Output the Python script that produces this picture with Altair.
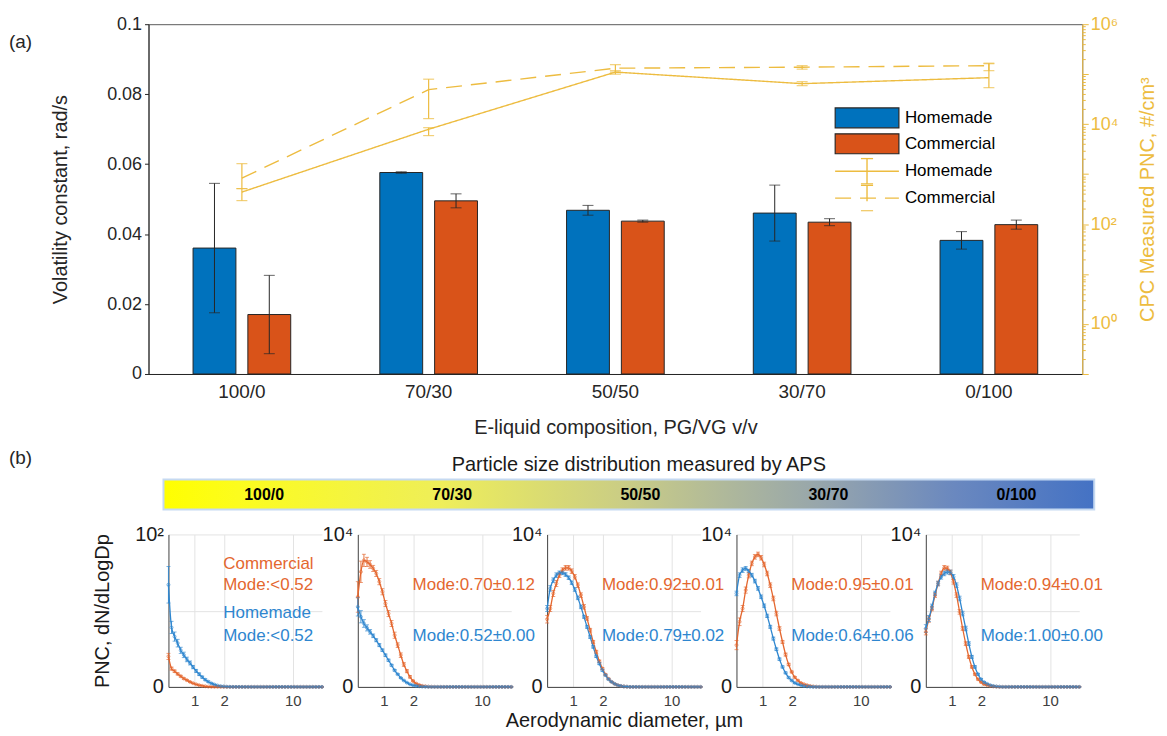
import altair as alt
import pandas as pd

FONT = "Liberation Sans"
INK = "#262626"
BLUE = "#0072BD"
ORANGE = "#D95319"
BLUE_L = "#2E86CF"
ORANGE_L = "#E4672F"
YEL = "#EDBC40"
GRID = "#E3E3E3"

# ---------------- panel (a) data ----------------
compositions = ["100/0", "70/30", "50/50", "30/70", "0/100"]
series = ["Homemade", "Commercial"]
line_series_names = ["Homemade CPC", "Commercial CPC"]

vol_home = [0.0360, 0.0576, 0.0468, 0.0460, 0.0382]
vol_home_err = [0.0185, 0.0002, 0.0014, 0.0080, 0.0025]
vol_comm = [0.0170, 0.0495, 0.0437, 0.0434, 0.0427]
vol_comm_err = [0.0112, 0.0020, 0.0003, 0.0010, 0.0013]

pnc_home = [437, 7900, 110000, 64600, 85100]
pnc_home_lo = [295, 5900, 100000, 58900, 53700]
pnc_home_hi = [513, 8500, 117500, 70800, 162000]
pnc_comm = [832, 49000, 131800, 138000, 148000]
pnc_comm_lo = [513, 12900, 109600, 126000, 117500]
pnc_comm_hi = [1620, 79400, 155000, 148000, 166000]

right_major = [0.1, 1, 10, 100, 1000, 10000, 100000, 1000000]
right_ticks = [m * 10.0 ** k for k in range(-1, 6) for m in range(1, 10)] + [1000000]
right_label_vals = [1, 100, 10000, 1000000]
right_label_text = ["10⁰", "10²", "10⁴", "10⁶"]

# ---------------- panel (b) data ----------------
cbar_title = "Particle size distribution measured by APS"
aps_bins = [0.542, 0.583, 0.626, 0.673, 0.723, 0.777, 0.835, 0.898, 0.965, 1.037,
            1.114, 1.197, 1.286, 1.382, 1.486, 1.596, 1.715, 1.843, 1.981, 2.129,
            2.288, 2.458, 2.642, 2.839, 3.051, 3.278, 3.523, 3.786, 4.068, 4.371,
            4.698, 5.048, 5.425, 5.829, 6.264, 6.732, 7.234, 7.774, 8.354, 8.977,
            9.647, 10.37, 11.14, 11.97, 12.86, 13.82, 14.86, 15.96, 17.15, 18.43,
            19.81]

home_1 = [67, 39, 33, 28.7, 24, 21, 18, 15.7, 13, 10.5,
          8.3, 6.4, 4.7, 3.4, 2.3, 1.5, 0.9, 0.5, 0.3, 0.15,
          0.08, 0.04, 0.02, 0.01, 0, 0, 0, 0, 0, 0,
          0, 0, 0, 0, 0, 0, 0, 0, 0, 0,
          0, 0, 0, 0, 0, 0, 0, 0, 0, 0, 0]
home_1_err = [12, 4, 3, 2.5, 2, 1.8, 1.5, 1.3, 1.1, 1.0,
              0.9, 0.7, 0.6, 0.5, 0.4, 0.3, 0.2, 0.15, 0.1, 0.05,
              0, 0, 0, 0, 0, 0, 0, 0, 0, 0,
              0, 0, 0, 0, 0, 0, 0, 0, 0, 0,
              0, 0, 0, 0, 0, 0, 0, 0, 0, 0, 0]
comm_1 = [20, 12, 10.3, 8.5, 7, 5.5, 4.4, 3.3, 2.4, 1.7,
          1.1, 0.7, 0.4, 0.2, 0.1, 0.05, 0.02, 0, 0, 0,
          0, 0, 0, 0, 0, 0, 0, 0, 0, 0,
          0, 0, 0, 0, 0, 0, 0, 0, 0, 0,
          0, 0, 0, 0, 0, 0, 0, 0, 0, 0, 0]
comm_1_err = [2, 1, 0.8, 0.7, 0.6, 0.5, 0.4, 0.3, 0.2, 0.2,
              0.1, 0.1, 0.05, 0, 0, 0, 0, 0, 0, 0,
              0, 0, 0, 0, 0, 0, 0, 0, 0, 0,
              0, 0, 0, 0, 0, 0, 0, 0, 0, 0,
              0, 0, 0, 0, 0, 0, 0, 0, 0, 0, 0]

comm_2 = [5900, 7550, 8300, 8200, 8030, 7770, 7440, 6900, 6240, 5470,
          4810, 4160, 3390, 2740, 2080, 1470, 1030, 660, 390, 220,
          130, 70, 40, 20, 10, 5, 0, 0, 0, 0,
          0, 0, 0, 0, 0, 0, 0, 0, 0, 0,
          0, 0, 0, 0, 0, 0, 0, 0, 0, 0, 0]
comm_2_err = [1000, 700, 400, 300, 250, 200, 200, 200, 200, 200,
              200, 200, 200, 150, 150, 120, 100, 80, 50, 30,
              20, 10, 5, 0, 0, 0, 0, 0, 0, 0,
              0, 0, 0, 0, 0, 0, 0, 0, 0, 0,
              0, 0, 0, 0, 0, 0, 0, 0, 0, 0, 0]
home_2 = [5250, 4600, 4160, 3870, 3610, 3350, 3060, 2740, 2410, 2080,
          1750, 1420, 1090, 830, 590, 420, 280, 175, 110, 66,
          40, 20, 10, 5, 0, 0, 0, 0, 0, 0,
          0, 0, 0, 0, 0, 0, 0, 0, 0, 0,
          0, 0, 0, 0, 0, 0, 0, 0, 0, 0, 0]
home_2_err = [600, 400, 250, 200, 150, 120, 100, 100, 80, 80,
              70, 60, 50, 40, 30, 25, 20, 15, 10, 5,
              0, 0, 0, 0, 0, 0, 0, 0, 0, 0,
              0, 0, 0, 0, 0, 0, 0, 0, 0, 0,
              0, 0, 0, 0, 0, 0, 0, 0, 0, 0, 0]

comm_3 = [4440, 5140, 6130, 6780, 7330, 7660, 7810, 7810, 7590, 7220,
          6670, 6020, 5250, 4490, 3720, 2950, 2300, 1680, 1200, 810,
          530, 330, 200, 110, 60, 30, 15, 0, 0, 0,
          0, 0, 0, 0, 0, 0, 0, 0, 0, 0,
          0, 0, 0, 0, 0, 0, 0, 0, 0, 0, 0]
comm_3_err = [250, 200, 200, 200, 150, 150, 150, 150, 150, 150,
              150, 150, 150, 120, 120, 100, 100, 80, 60, 50,
              40, 30, 20, 10, 5, 0, 0, 0, 0, 0,
              0, 0, 0, 0, 0, 0, 0, 0, 0, 0,
              0, 0, 0, 0, 0, 0, 0, 0, 0, 0, 0]
home_3 = [5140, 6460, 7000, 7330, 7480, 7480, 7370, 7160, 6830, 6390,
          5840, 5250, 4600, 3940, 3280, 2630, 2010, 1530, 1090, 770,
          500, 330, 200, 110, 60, 30, 15, 0, 0, 0,
          0, 0, 0, 0, 0, 0, 0, 0, 0, 0,
          0, 0, 0, 0, 0, 0, 0, 0, 0, 0, 0]
home_3_err = [200, 180, 150, 150, 120, 120, 120, 120, 120, 120,
              120, 120, 100, 100, 100, 90, 80, 70, 60, 50,
              40, 30, 20, 10, 5, 0, 0, 0, 0, 0,
              0, 0, 0, 0, 0, 0, 0, 0, 0, 0,
              0, 0, 0, 0, 0, 0, 0, 0, 0, 0, 0]

comm_4 = [2740, 4270, 5140, 6350, 7330, 8100, 8530, 8690, 8470, 8030,
          7440, 6670, 5800, 4810, 3830, 2950, 2120, 1470, 980, 630,
          420, 260, 175, 110, 60, 30, 15, 0, 0, 0,
          0, 0, 0, 0, 0, 0, 0, 0, 0, 0,
          0, 0, 0, 0, 0, 0, 0, 0, 0, 0, 0]
comm_4_err = [300, 250, 200, 200, 180, 150, 150, 150, 150, 150,
              150, 150, 150, 150, 120, 100, 100, 80, 60, 50,
              40, 30, 20, 10, 5, 0, 0, 0, 0, 0,
              0, 0, 0, 0, 0, 0, 0, 0, 0, 0,
              0, 0, 0, 0, 0, 0, 0, 0, 0, 0, 0]
home_4 = [6130, 7330, 7660, 7770, 7590, 7330, 6940, 6460, 5910, 5320,
          4660, 3940, 3170, 2470, 1820, 1310, 920, 610, 420, 260,
          175, 110, 60, 30, 15, 0, 0, 0, 0, 0,
          0, 0, 0, 0, 0, 0, 0, 0, 0, 0,
          0, 0, 0, 0, 0, 0, 0, 0, 0, 0, 0]
home_4_err = [150, 150, 150, 120, 120, 120, 120, 120, 120, 120,
              110, 100, 100, 90, 80, 70, 60, 50, 40, 30,
              20, 10, 5, 0, 0, 0, 0, 0, 0, 0,
              0, 0, 0, 0, 0, 0, 0, 0, 0, 0,
              0, 0, 0, 0, 0, 0, 0, 0, 0, 0, 0]

comm_5 = [3610, 4440, 5140, 6020, 6780, 7440, 7810, 7770, 7510, 6890,
          6020, 4920, 3830, 2840, 1970, 1310, 830, 500, 310, 175,
          110, 60, 30, 15, 0, 0, 0, 0, 0, 0,
          0, 0, 0, 0, 0, 0, 0, 0, 0, 0,
          0, 0, 0, 0, 0, 0, 0, 0, 0, 0, 0]
comm_5_err = [200, 200, 150, 150, 150, 150, 150, 150, 150, 150,
              150, 150, 120, 120, 100, 80, 60, 50, 40, 30,
              20, 10, 5, 0, 0, 0, 0, 0, 0, 0,
              0, 0, 0, 0, 0, 0, 0, 0, 0, 0,
              0, 0, 0, 0, 0, 0, 0, 0, 0, 0, 0]
home_5 = [3830, 4490, 5250, 6130, 6780, 7220, 7440, 7550, 7510, 7220,
          6670, 5800, 4810, 3830, 2840, 1970, 1310, 830, 500, 310,
          200, 110, 60, 30, 15, 0, 0, 0, 0, 0,
          0, 0, 0, 0, 0, 0, 0, 0, 0, 0,
          0, 0, 0, 0, 0, 0, 0, 0, 0, 0, 0]
home_5_err = [250, 200, 180, 150, 150, 150, 150, 150, 150, 150,
              150, 150, 150, 150, 120, 100, 80, 60, 50, 40,
              30, 20, 10, 5, 0, 0, 0, 0, 0, 0,
              0, 0, 0, 0, 0, 0, 0, 0, 0, 0,
              0, 0, 0, 0, 0, 0, 0, 0, 0, 0, 0]

panel_home = [home_1, home_2, home_3, home_4, home_5]
panel_home_err = [home_1_err, home_2_err, home_3_err, home_4_err, home_5_err]
panel_comm = [comm_1, comm_2, comm_3, comm_4, comm_5]
panel_comm_err = [comm_1_err, comm_2_err, comm_3_err, comm_4_err, comm_5_err]
panel_top = [100, 10000, 10000, 10000, 10000]
panel_top_label = ["10²", "10⁴", "10⁴", "10⁴", "10⁴"]

mode_comm = ["Mode:<0.52", "Mode:0.70±0.12", "Mode:0.92±0.01", "Mode:0.95±0.01", "Mode:0.94±0.01"]
mode_home = ["Mode:<0.52", "Mode:0.52±0.00", "Mode:0.79±0.02", "Mode:0.64±0.06", "Mode:1.00±0.00"]
note_x = 1.96
note_frac_name_comm = 0.806
note_frac_comm = 0.669
note_frac_name_home = 0.484
note_frac_home = 0.331

for arr in panel_home + panel_home_err + panel_comm + panel_comm_err:
    assert len(arr) == len(aps_bins), len(arr)

# ================= (a) top chart =================
bar_df = pd.DataFrame({
    "comp": compositions + compositions,
    "bar_series": ["Homemade"] * 5 + ["Commercial"] * 5,
    "vol": vol_home + vol_comm,
    "err": vol_home_err + vol_comm_err,
})
bar_df["lo"] = bar_df["vol"] - bar_df["err"]
bar_df["hi"] = bar_df["vol"] + bar_df["err"]

line_df = pd.DataFrame({
    "comp": compositions + compositions,
    "line_series": [line_series_names[0]] * 5 + [line_series_names[1]] * 5,
    "pnc": pnc_home + pnc_comm,
    "lo": pnc_home_lo + pnc_comm_lo,
    "hi": pnc_home_hi + pnc_comm_hi,
})

x_a = alt.X("comp:N", sort=compositions,
            scale=alt.Scale(paddingInner=0, paddingOuter=0),
            axis=alt.Axis(title="E-liquid composition, PG/VG v/v", labelAngle=0,
                          labelFontSize=19, titleFontSize=20, titleFontWeight="normal",
                          tickSize=0, labelPadding=9, titlePadding=16,
                          domainColor=INK, labelColor=INK, titleColor=INK))
x_off = alt.XOffset("bar_series:N", sort=series,
                    scale=alt.Scale(domain=series, paddingInner=0.218, paddingOuter=0.8125))

y_scale_l = alt.Scale(domain=[0, 0.1], nice=False)
left_axis = alt.Axis(title="Volatility constant, rad/s", values=[0, 0.02, 0.04, 0.06, 0.08, 0.1],
                     format="~g", labelFontSize=18, titleFontSize=20, titleFontWeight="normal",
                     tickSize=4, tickColor=INK, domainColor=INK, labelColor=INK, titleColor=INK,
                     labelPadding=3, titlePadding=36, grid=False)

bars = alt.Chart(bar_df).mark_bar(stroke=INK, strokeWidth=1).encode(
    x=x_a, xOffset=x_off,
    y=alt.Y("vol:Q", scale=y_scale_l, axis=left_axis),
    fill=alt.Fill("bar_series:N", sort=series,
                  scale=alt.Scale(domain=series, range=[BLUE, ORANGE]),
                  legend=alt.Legend(title=None, orient="none", legendX=688, legendY=81,
                                    symbolType="M-1,-0.3125H1V0.3125H-1Z", symbolSize=4096,
                                    symbolStrokeColor=INK, symbolStrokeWidth=1.2,
                                    clipHeight=26, rowPadding=0, padding=0,
                                    labelFontSize=17, labelColor="black", labelOffset=5)),
)
bar_err = alt.Chart(bar_df).mark_rule(color=INK, strokeWidth=1).encode(
    x=x_a, xOffset=x_off,
    y=alt.Y("lo:Q", scale=y_scale_l, axis=left_axis), y2="hi:Q")
bar_cap_lo = alt.Chart(bar_df).mark_tick(color=INK, size=11, thickness=1).encode(
    x=x_a, xOffset=x_off, y=alt.Y("lo:Q", scale=y_scale_l, axis=left_axis))
bar_cap_hi = alt.Chart(bar_df).mark_tick(color=INK, size=11, thickness=1).encode(
    x=x_a, xOffset=x_off, y=alt.Y("hi:Q", scale=y_scale_l, axis=left_axis))
label_a = alt.Chart(pd.DataFrame({"lab": ["(a)"]})).mark_text(
    align="left", baseline="middle", fontSize=19, color=INK).encode(
    x=alt.value(-140), y=alt.value(18), text="lab:N")

label_expr_r = " : ".join(
    [f"datum.value == {v} ? '{t}'" for v, t in zip(right_label_vals, right_label_text)]) + " : ''"
major_test = "indexof([" + ",".join(str(v) for v in right_major) + "], datum.value) >= 0"
y_scale_r = alt.Scale(type="log", domain=[0.1, 1000000], nice=False)
right_axis = alt.Axis(orient="right", title="CPC Measured PNC, #/cm³", values=right_ticks,
                      labelExpr=label_expr_r, labelOverlap=False, labelFlush=False, labelBound=False,
                      tickSize={"condition": {"test": major_test, "value": 6}, "value": 3},
                      tickColor=YEL, domainColor=YEL, labelColor=YEL, titleColor=YEL,
                      labelFontSize=18, titleFontSize=20, titleFontWeight="normal",
                      labelPadding=2, titlePadding=40, titleAngle=270, titleBaseline="bottom",
                      grid=False)

lines = alt.Chart(line_df).mark_line(color=YEL, strokeWidth=1.4).encode(
    x=x_a,
    y=alt.Y("pnc:Q", scale=y_scale_r, axis=right_axis),
    strokeDash=alt.StrokeDash("line_series:N", sort=line_series_names,
                              scale=alt.Scale(domain=line_series_names, range=[[1, 0], [16, 9]]),
                              legend=alt.Legend(title=None, orient="none", legendX=688, legendY=134,
                                                symbolType="M-1,0H1M0,-0.4V0.4M-0.19,-0.4H0.19M-0.19,0.4H0.19",
                                                symbolSize=4096, symbolStrokeColor=YEL,
                                                symbolFillColor="transparent", symbolStrokeWidth=1.4,
                                                clipHeight=27, rowPadding=0, padding=0,
                                                labelExpr="replace(datum.label, ' CPC', '')",
                                                labelFontSize=17, labelColor="black", labelOffset=5)),
)
line_err = alt.Chart(line_df).mark_rule(color=YEL, strokeWidth=1.2).encode(
    x=x_a, y=alt.Y("lo:Q", scale=y_scale_r, axis=right_axis), y2="hi:Q")
line_cap_lo = alt.Chart(line_df).mark_tick(color=YEL, size=11, thickness=1.2).encode(
    x=x_a, y=alt.Y("lo:Q", scale=y_scale_r, axis=right_axis))
line_cap_hi = alt.Chart(line_df).mark_tick(color=YEL, size=11, thickness=1.2).encode(
    x=x_a, y=alt.Y("hi:Q", scale=y_scale_r, axis=right_axis))

top = alt.layer(
    alt.layer(bars, bar_err, bar_cap_lo, bar_cap_hi, label_a),
    alt.layer(lines, line_err, line_cap_lo, line_cap_hi),
).resolve_scale(y="independent").properties(
    width=937, height=351, view=alt.ViewBackground(stroke="#5a5a5a", strokeWidth=1))

# ================= (b) colour bar =================
cb_view_lo, cb_view_hi = -0.6146, 4.413
cb_lo, cb_hi = -0.535, 4.413
cb_scale = alt.Scale(domain=[cb_view_lo, cb_view_hi], nice=False, zero=False)
cb_stops = [(0.0, "#FFFF00"), (0.08, "#FCFC1E"), (0.3, "#EEEE5A"), (0.5, "#C9CC86"),
            (0.6, "#B0B99A"), (0.72, "#93A3AE"), (0.85, "#6A88BF"), (1.0, "#4472C4")]
cb_rect = alt.Chart(pd.DataFrame({"start": [cb_lo], "end": [cb_hi]})).mark_rect(
    fill=alt.LinearGradient(gradient="linear",
                            stops=[alt.GradientStop(offset=o, color=c) for o, c in cb_stops],
                            x1=0, x2=1, y1=0, y2=0),
    stroke="#C5D9F1", strokeWidth=2).encode(
    x=alt.X("start:Q", scale=cb_scale, axis=None), x2="end:Q")
cb_text = alt.Chart(pd.DataFrame({"comp": compositions, "idx": [0, 1, 2, 3, 4]})).mark_text(
    fontSize=16, fontWeight="bold", color="black", baseline="middle").encode(
    x=alt.X("idx:Q", scale=cb_scale, axis=None), text="comp:N")
cb_title = alt.Chart(pd.DataFrame({"t": [cbar_title]})).mark_text(
    fontSize=20, color="#1a1a1a", baseline="middle", align="center").encode(
    x=alt.value(492), y=alt.value(-15), text="t:N")
label_b = alt.Chart(pd.DataFrame({"lab": ["(b)"]})).mark_text(
    align="left", baseline="middle", fontSize=19, color=INK).encode(
    x=alt.value(-140), y=alt.value(-22), text="lab:N")
cbar = alt.layer(cb_rect, cb_text, cb_title, label_b).properties(width=949, height=30)


# ================= (b) distribution panels =================
def make_panel(i):
    top_v = panel_top[i]
    n = len(aps_bins)
    df = pd.DataFrame({
        "d": aps_bins + aps_bins,
        "val": panel_comm[i] + panel_home[i],
        "err": panel_comm_err[i] + panel_home_err[i],
        "series": ["Commercial"] * n + ["Homemade"] * n,
    })
    df["lo"] = (df["val"] - df["err"]).clip(lower=0)
    df["hi"] = df["val"] + df["err"]

    xkw = dict(values=[1, 2, 10], format="~g", grid=True, gridColor=GRID, domainColor="#404040",
               tickSize=0, labelFontSize=15, labelColor="#404040", labelPadding=7, labelFlush=False)
    if i == 2:
        xkw.update(title="Aerodynamic diameter, µm", titleFontSize=20, titleFontWeight="normal",
                   titleColor="#1a1a1a", titlePadding=2)
    else:
        xkw["title"] = None
    ykw = dict(values=[0, top_v / 2, top_v],
               labelExpr=f"datum.value == 0 ? '0' : datum.value == {top_v} ? '{panel_top_label[i]}' : ''",
               grid=True, gridColor=GRID, domainColor="#404040", tickSize=0, labelFontSize=20,
               labelColor="#1a1a1a", labelPadding=5, labelOverlap=False, labelFlush=False)
    if i == 0:
        ykw.update(title="PNC, dN/dLogDp", titleFontSize=20, titleFontWeight="normal",
                   titleColor="#1a1a1a", titlePadding=22)
    else:
        ykw["title"] = None

    xs = alt.Scale(type="log", domain=[aps_bins[0], aps_bins[-1]], nice=False)
    ys = alt.Scale(domain=[0, top_v], nice=False)
    xax = alt.Axis(**xkw)
    yax = alt.Axis(**ykw)
    col = alt.Color("series:N", scale=alt.Scale(domain=["Commercial", "Homemade"],
                                                range=[ORANGE_L, BLUE_L]), legend=None)
    base = alt.Chart(df)
    line = base.mark_line(strokeWidth=1.3, interpolate="monotone").encode(
        x=alt.X("d:Q", scale=xs, axis=xax), y=alt.Y("val:Q", scale=ys, axis=yax), color=col)
    err = base.mark_rule(strokeWidth=0.9).encode(
        x=alt.X("d:Q", scale=xs, axis=xax), y=alt.Y("lo:Q", scale=ys, axis=yax), y2="hi:Q", color=col)
    cap_lo = base.mark_tick(orient="horizontal", size=4, thickness=0.9).encode(
        x=alt.X("d:Q", scale=xs, axis=xax), y=alt.Y("lo:Q", scale=ys, axis=yax), color=col)
    cap_hi = base.mark_tick(orient="horizontal", size=4, thickness=0.9).encode(
        x=alt.X("d:Q", scale=xs, axis=xax), y=alt.Y("hi:Q", scale=ys, axis=yax), color=col)
    pts = base.mark_point(size=9, strokeWidth=0.8, filled=False, opacity=0.8).encode(
        x=alt.X("d:Q", scale=xs, axis=xax), y=alt.Y("val:Q", scale=ys, axis=yax), color=col)

    if i == 0:
        labels = ["Commercial", mode_comm[i], "Homemade", mode_home[i]]
        fr = [note_frac_name_comm, note_frac_comm, note_frac_name_home, note_frac_home]
        ser = ["Commercial", "Commercial", "Homemade", "Homemade"]
    else:
        labels = [mode_comm[i], mode_home[i]]
        fr = [note_frac_comm, note_frac_home]
        ser = ["Commercial", "Homemade"]
    tdf = pd.DataFrame({"label": labels, "tx": [note_x] * len(labels),
                        "ty": [f * top_v for f in fr], "series": ser})
    txt = alt.Chart(tdf).mark_text(align="left", baseline="middle", fontSize=17).encode(
        x=alt.X("tx:Q", scale=xs, axis=xax), y=alt.Y("ty:Q", scale=ys, axis=yax),
        text="label:N", color=col)

    return alt.layer(err, cap_lo, cap_hi, line, pts, txt).properties(width=154, height=153)


row = alt.hconcat(*[make_panel(i) for i in range(5)], spacing=36, bounds="flush")
spacer = alt.Chart(pd.DataFrame({"a": [0]})).mark_point(opacity=0).encode(
    x=alt.value(0), y=alt.value(0)).properties(width=1, height=153)
row_wrap = alt.hconcat(spacer, row, spacing=19, bounds="flush")

chart = alt.vconcat(
    top,
    alt.vconcat(cbar, row_wrap, spacing=12),
    spacing=9,
).properties(
    padding={"left": 0, "top": 5, "right": 0, "bottom": 0}
).configure(
    font=FONT
).configure_view(
    stroke="transparent"
).configure_axis(
    labelFont=FONT, titleFont=FONT
).configure_legend(
    labelFont=FONT
).configure_text(
    font=FONT
).configure_title(
    font=FONT
)

chart.save("out.html", embed_options={"renderer": "svg", "actions": False})
